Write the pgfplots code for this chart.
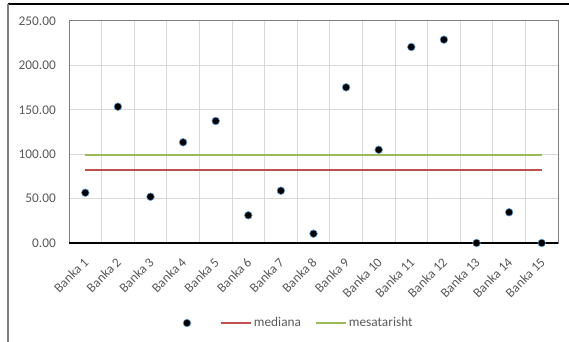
\documentclass[border=0pt]{standalone}
\usepackage{pgfplots}
\pgfplotsset{compat=1.18}
\usepackage{fontspec}
\setmainfont{Carlito}
\definecolor{tickgray}{HTML}{595959}
\definecolor{gridgray}{HTML}{D9D9D9}
\definecolor{framegray}{HTML}{7F7F7F}
\definecolor{medred}{HTML}{C0504D}
\definecolor{meangreen}{HTML}{9BBB59}
\definecolor{markblue}{HTML}{5B9BD5}
\begin{document}
\begin{tikzpicture}[x=1bp,y=1bp,font=\fontsize{13.3bp}{16bp}\selectfont]
\path[use as bounding box] (0,0) rectangle (569,341);
\draw[black, line width=1.2bp] (8,337) -- (580,337);
\draw[framegray, line width=1.5bp] (8,337) -- (8,-10);
\begin{axis}[
  at={(69bp,98bp)}, anchor=south west,
  scale only axis, width=489bp, height=222bp,
  xmin=0.5, xmax=15.5, ymin=0, ymax=250,
  xtick={1,...,15},
  xticklabels={Banka 1,Banka 2,Banka 3,Banka 4,Banka 5,Banka 6,Banka 7,Banka 8,Banka 9,Banka 10,Banka 11,Banka 12,Banka 13,Banka 14,Banka 15},
  minor xtick={1.5,2.5,...,14.5},
  xmajorgrids=false, xminorgrids=true,
  ytick={0,50,...,250}, ymajorgrids=true,
  major tick length=0pt, minor tick length=0pt,
  grid style={gridgray, line width=1bp},
  minor grid style={gridgray, line width=1bp},
  axis line style={framegray, line width=1bp},
  /pgf/number format/.cd, fixed, fixed zerofill, precision=2, assume math mode=true,
  /pgfplots/.cd,
  yticklabel style={text=tickgray, anchor=east, inner sep=0pt, xshift=-13bp, font=\fontsize{13.3bp}{16bp}\selectfont},
  xticklabel style={text=tickgray, anchor=east, inner sep=0pt, xshift=1bp, yshift=-17bp, rotate=45, font=\fontsize{13.3bp}{16bp}\selectfont},
  legend columns=3,
  legend style={at={(0.2106,-0.3604)}, anchor=west, draw=none, fill=none,
    inner sep=0pt, outer sep=0pt, column sep=0pt, row sep=0pt,
    nodes={inner sep=0pt, outer sep=0pt, text=tickgray, font=\fontsize{13.3bp}{16bp}\selectfont}},
  clip=false,
]
\addplot[only marks, mark=*, mark size=3.8bp, mark options={fill=black, draw=markblue, line width=0.6bp},
  legend image code/.code={\path[draw=none,fill=none] (0bp,-6bp) rectangle (30bp,6bp);
    \path[draw=markblue, fill=black, line width=0.6bp] (15bp,0bp) circle (3.8bp);}]
  coordinates {(1,56.6) (2,153.5) (3,52.1) (4,113.4) (5,137.4) (6,31.2) (7,58.9) (8,10.5) (9,175.3) (10,105.0) (11,220.7) (12,229.0) (13,0) (14,34.6) (15,0)};
\addlegendentry{\mbox{}}
\addplot[medred, line width=2bp,
  legend image code/.code={\path[draw=none,fill=none] (-18bp,-6bp) rectangle (33bp,6bp);
    \path[draw=medred, line width=2bp] (0bp,0bp) -- (30bp,0bp);}]
  coordinates {(1,82.2) (15,82.2)};
\addlegendentry{mediana}
\addplot[meangreen, line width=2bp,
  legend image code/.code={\path[draw=none,fill=none] (-15bp,-6bp) rectangle (33bp,6bp);
    \path[draw=meangreen, line width=2bp] (0bp,0bp) -- (30bp,0bp);}]
  coordinates {(1,98.7) (15,98.7)};
\addlegendentry{mesatarisht}
\draw[black, line width=1.5bp] (rel axis cs:0,0) -- (rel axis cs:1,0);
\end{axis}
\end{tikzpicture}
\end{document}
